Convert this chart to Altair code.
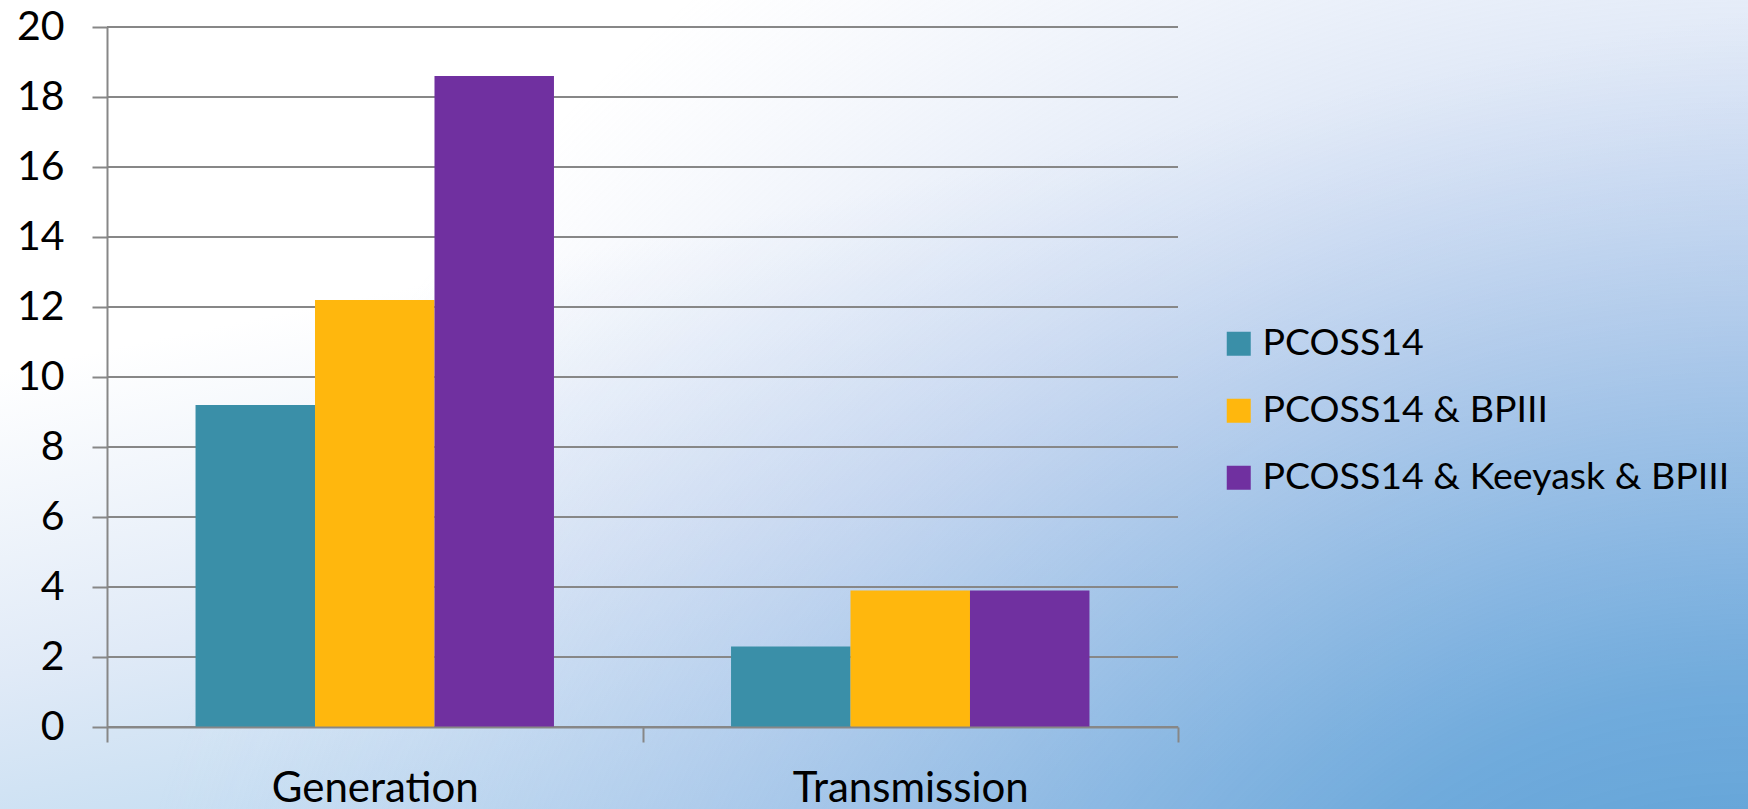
import altair as alt
import pandas as pd

# Chart values
categories = ["Generation", "Transmission"]
series = ["PCOSS14", "PCOSS14 & BPIII", "PCOSS14 & Keeyask & BPIII"]
generation = [9.2, 12.2, 18.6]
transmission = [2.3, 3.9, 3.9]
series_colors = ["#3a8fa8", "#ffb70d", "#7030a0"]
y_ticks = [0, 2, 4, 6, 8, 10, 12, 14, 16, 18, 20]

rows = []
for cat, vals in zip(categories, [generation, transmission]):
    for s, v in zip(series, vals):
        rows.append({"category": cat, "series": s, "value": v})
bars_df = pd.DataFrame(rows)
grid_df = pd.DataFrame({"value": y_ticks})

# Layout (pixels)
TOTAL_W, TOTAL_H = 1748, 809
LEFT, TOP = 107, 27
W, H = 1071, 700
RIGHT = TOTAL_W - LEFT - W
BOTTOM = TOTAL_H - TOP - H

FONT = "Lato"
LINE = "#878787"

y_scale = alt.Scale(domain=[0, 20], nice=False)
y_axis = alt.Axis(
    values=y_ticks, grid=False, title=None, zindex=1,
    domainColor=LINE, domainWidth=2,
    tickColor=LINE, tickWidth=2, tickSize=15,
    labelFont=FONT, labelFontSize=41, labelColor="#000000",
    labelPadding=28,
)

# Page background: pale diagonal wash plus a blue glow from the lower right
bg_one = pd.DataFrame({"k": [0]})
frame = dict(
    x=alt.value(-LEFT), x2=alt.value(TOTAL_W - LEFT),
    y=alt.value(-TOP), y2=alt.value(TOTAL_H - TOP),
)
wash = alt.Chart(bg_one).mark_rect(
    fill=alt.LinearGradient(
        gradient="linear", x1=0.2, y1=0.1, x2=0.6, y2=1,
        stops=[
            alt.GradientStop(color="#ffffff", offset=0),
            alt.GradientStop(color="#ffffff", offset=0.25),
            alt.GradientStop(color="#e0eaf7", offset=0.6),
            alt.GradientStop(color="#b3d5ee", offset=1),
        ],
    )
).encode(**frame)
glow = alt.Chart(bg_one).mark_rect(
    fill=alt.RadialGradient(
        gradient="radial", x1=1, y1=1, r1=0, x2=1, y2=1, r2=0.95,
        stops=[
            alt.GradientStop(color="rgba(64,146,206,1)", offset=0),
            alt.GradientStop(color="rgba(95,160,215,0.8)", offset=0.35),
            alt.GradientStop(color="rgba(150,180,228,0.35)", offset=0.7),
            alt.GradientStop(color="rgba(190,205,238,0)", offset=1),
        ],
    )
).encode(**frame)

grid = alt.Chart(grid_df).mark_rule(color=LINE, strokeWidth=2).encode(
    y=alt.Y("value:Q", scale=y_scale, axis=y_axis),
    x=alt.value(0), x2=alt.value(W),
)

bars = alt.Chart(bars_df).mark_bar(strokeWidth=0).encode(
    x=alt.X(
        "category:N", sort=categories,
        scale=alt.Scale(paddingInner=0, paddingOuter=0),
        axis=alt.Axis(
            title=None, labelAngle=0, zindex=1,
            domainColor=LINE, domainWidth=2,
            tickColor=LINE, tickWidth=2, tickSize=15, tickBand="extent",
            labelFont=FONT, labelFontSize=42, labelColor="#000000",
            labelPadding=26, labelLimit=1000,
        ),
    ),
    xOffset=alt.XOffset(
        "series:N", sort=series,
        scale=alt.Scale(paddingInner=0, paddingOuter=0.741),
    ),
    y=alt.Y("value:Q", scale=y_scale, axis=y_axis),
    color=alt.Color(
        "series:N", sort=series,
        scale=alt.Scale(domain=series, range=series_colors),
        legend=alt.Legend(
            title=None, orient="none", legendX=1113, legendY=298,
            symbolType="square", symbolSize=576, symbolStrokeWidth=0,
            labelFont=FONT, labelFontSize=37.5, labelColor="#000000",
            labelOffset=5, rowPadding=28, padding=0,
            labelLimit=1000,
        ),
    ),
)

chart = alt.layer(wash, glow, grid, bars).properties(
    width=W, height=H,
    autosize=alt.AutoSizeParams(type="none"),
    padding={"left": LEFT, "top": TOP, "right": RIGHT, "bottom": BOTTOM},
    background="#ffffff",
).configure_view(stroke=None)

chart.save("out.html", embed_options={"renderer": "svg", "actions": False})
